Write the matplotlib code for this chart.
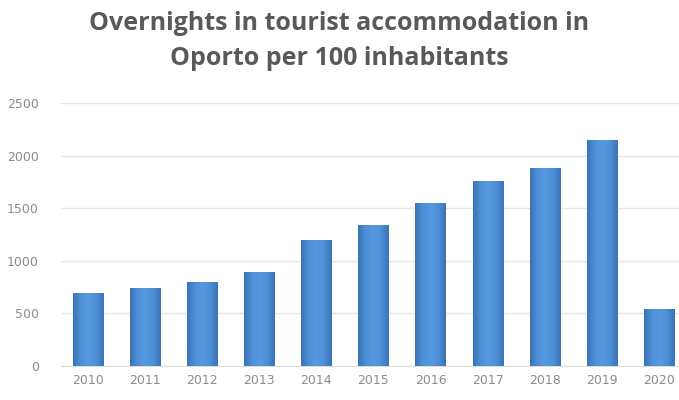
"""
Bar chart: overnights in tourist accommodation in Oporto per 100 inhabitants
"""
import numpy as np
import matplotlib
matplotlib.use("Agg")
import matplotlib.pyplot as plt
from matplotlib.colors import LinearSegmentedColormap

years = ["2010", "2011", "2012", "2013", "2014", "2015",
         "2016", "2017", "2018", "2019", "2020"]
overnights = [690, 740, 795, 895, 1195, 1340, 1545, 1755, 1885, 2150, 545]
y_ticks = [0, 500, 1000, 1500, 2000, 2500]

title = "Overnights in tourist accommodation in\nOporto per 100 inhabitants"

text_gray = "#8c8c8c"
grid_gray = "#e6e6e6"

fig = plt.figure(figsize=(6.79, 4.0), dpi=100)
ax = fig.add_axes([61 / 679, 34 / 400, 625 / 679, 263 / 400])

x = np.arange(len(years))
bars = ax.bar(x, overnights, width=0.53, color="#4a89cf", edgecolor="none", zorder=2)

# horizontal shading across each bar: darker at the sides, lighter in the middle
shade = LinearSegmentedColormap.from_list(
    "barshade", ["#3b73b5", "#4e90d8", "#5599df", "#4e90d8", "#3b73b5"])
grad = np.linspace(0, 1, 64).reshape(1, -1)
for b in bars:
    x0, w, h = b.get_x(), b.get_width(), b.get_height()
    im = ax.imshow(grad, cmap=shade, aspect="auto",
                   extent=(x0, x0 + w, 0, h), zorder=3)
    im.set_clip_path(b)

ax.set_xlim(-0.47, len(years) - 0.53)
ax.set_ylim(0, 2500)
ax.set_yticks(y_ticks)
ax.set_yticklabels([str(v) for v in y_ticks])
ax.set_xticks(x)
ax.set_xticklabels(years)

ax.yaxis.grid(True, color=grid_gray, linewidth=1.0, zorder=0)
ax.set_axisbelow(True)
for side in ["top", "right", "left"]:
    ax.spines[side].set_visible(False)
ax.spines["bottom"].set_color("#dddddd")
ax.tick_params(axis="both", length=0, labelsize=9, labelcolor=text_gray,
               pad=6)
ax.tick_params(axis="y", pad=16)

fig.text(0.5, 1 - 11 / 400, title, ha="center", va="top", fontsize=18,
         fontweight="bold", color="#595959", family="Open Sans",
         linespacing=1.55)

plt.savefig("out.png", dpi=100)
